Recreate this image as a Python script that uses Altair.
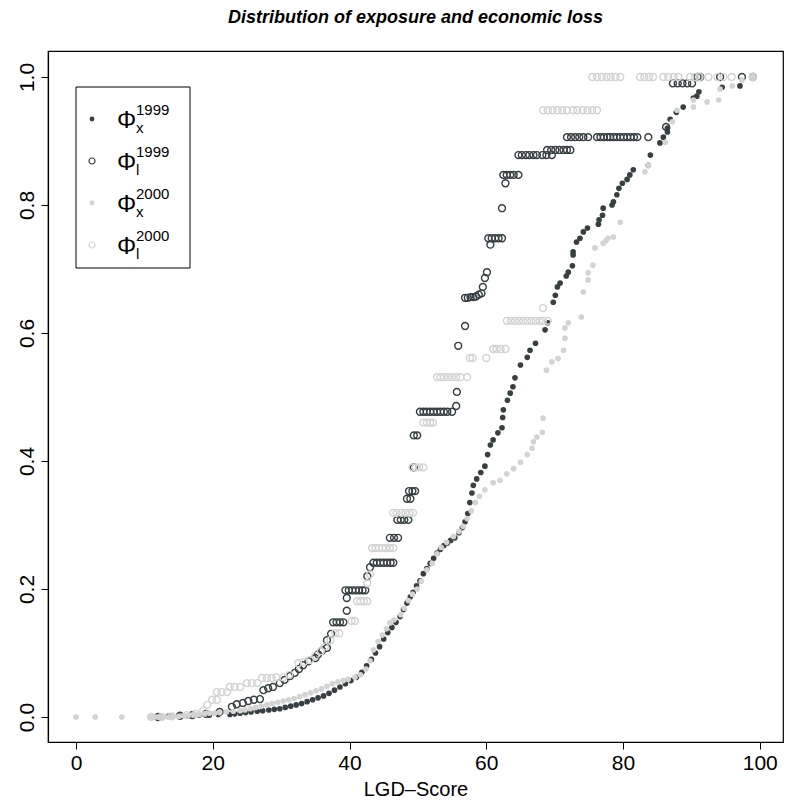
import altair as alt
import pandas as pd

# ---------------- data ----------------
# Phi_x 1999 (dark, filled)
x_fx99 = [12.0,13.5,15.0,16.5,18.0,19.5,20.8,22.5,23.2,24.0,24.8,25.6,26.5,27.3,28.2,29.0,29.8,30.6,31.4,32.2,
          33.0,33.8,34.6,35.4,36.2,37.0,37.8,38.6,39.4,40.2,41.0,41.8,42.5,43.2,43.8,44.4,45.0,45.6,46.2,46.8,
          47.4,47.9,48.4,48.9,49.3,49.8,50.3,50.8,51.3,51.8,52.3,52.8,53.3,53.8,54.3,54.8,55.4,56.0,56.5,56.9,
          57.3,57.6,57.9,58.1,58.6,59.2,59.8,60.2,60.6,61.0,61.7,62.3,62.4,62.5,63.1,63.5,63.9,64.2,65.0,66.0,
          66.4,67.2,68.6,69.0,69.8,70.1,70.4,70.8,71.7,72.0,72.6,72.7,72.7,73.2,73.7,74.2,74.8,76.4,76.5,77.0,
          77.1,78.4,78.6,79.1,79.4,79.9,80.6,81.0,81.5,83.7,84.0,85.4,85.9,86.5,86.5,86.9,87.8,88.8,90.3,90.8,
          91.1,94.5,97.1]
y_fx99 = [0.000,0.001,0.002,0.002,0.003,0.003,0.004,0.004,0.005,0.006,0.007,0.008,0.009,0.010,0.011,0.012,0.013,0.015,0.017,0.019,
          0.021,0.024,0.027,0.030,0.033,0.037,0.042,0.047,0.052,0.057,0.062,0.070,0.080,0.090,0.100,0.110,0.122,0.132,0.140,0.148,
          0.157,0.168,0.178,0.188,0.195,0.205,0.213,0.224,0.232,0.240,0.248,0.256,0.262,0.268,0.272,0.276,0.280,0.288,0.296,0.305,
          0.318,0.335,0.350,0.362,0.372,0.382,0.392,0.410,0.425,0.433,0.444,0.452,0.468,0.480,0.495,0.506,0.516,0.530,0.550,0.562,
          0.573,0.584,0.605,0.616,0.648,0.659,0.672,0.678,0.689,0.695,0.705,0.722,0.727,0.742,0.748,0.758,0.764,0.770,0.777,0.784,
          0.795,0.800,0.805,0.816,0.826,0.834,0.840,0.847,0.855,0.862,0.878,0.897,0.906,0.914,0.920,0.934,0.945,0.953,0.967,0.970,
          0.977,0.984,0.986]

# Phi_l 1999 (dark, open)
x_fl99 = [12.0,15.2,17.0,19.0,21.0,22.8,23.5,24.4,25.2,26.0,26.9,27.4,28.1,28.8,29.8,30.5,31.3,32.0,32.6,33.2,
          34.0,35.0,35.4,36.0,36.7,36.7,37.3,37.6,38.1,38.6,39.1,39.6,39.6,39.4,39.9,40.4,40.9,41.4,41.9,42.3,
          42.6,43.0,43.5,44.0,44.5,45.0,45.5,46.0,46.4,45.9,46.5,47.1,47.0,47.5,48.0,48.6,48.4,48.9,48.7,49.2,
          49.6,49.4,49.4,49.9,50.3,50.8,51.3,51.8,52.3,52.8,53.3,53.8,54.3,55.0,55.6,55.7,55.9,56.9,56.9,57.3,
          57.7,58.1,58.5,58.9,59.3,59.5,59.8,60.1,60.6,60.3,60.8,61.3,61.8,62.3,62.3,62.8,62.5,63.0,63.5,64.0,
          64.7,64.7,65.2,65.8,66.3,66.9,67.4,68.2,68.8,69.6,68.9,69.5,70.1,70.7,71.3,71.8,72.3,71.8,72.4,73.0,
          73.6,74.2,74.9,76.2,76.7,77.2,77.7,78.1,78.6,79.1,79.6,80.1,80.6,81.1,81.6,82.1,83.7,86.3,87.3,88.0,
          88.7,89.4,90.1,90.9,91.3,94.2,97.4,99.0]
y_fl99 = [0.000,0.002,0.003,0.005,0.008,0.016,0.020,0.022,0.025,0.027,0.028,0.042,0.045,0.047,0.053,0.058,0.064,0.069,0.075,0.081,
          0.087,0.092,0.098,0.104,0.108,0.120,0.130,0.148,0.148,0.148,0.148,0.166,0.186,0.198,0.198,0.198,0.198,0.198,0.198,0.198,
          0.220,0.234,0.241,0.241,0.241,0.241,0.241,0.241,0.241,0.280,0.280,0.280,0.308,0.308,0.308,0.308,0.341,0.341,0.353,0.353,
          0.353,0.390,0.440,0.440,0.477,0.477,0.477,0.477,0.477,0.477,0.477,0.477,0.477,0.477,0.486,0.508,0.580,0.611,0.655,0.655,
          0.656,0.656,0.657,0.660,0.662,0.672,0.686,0.695,0.738,0.748,0.748,0.748,0.748,0.748,0.795,0.834,0.847,0.847,0.847,0.847,
          0.847,0.878,0.878,0.878,0.878,0.878,0.878,0.878,0.878,0.878,0.886,0.886,0.886,0.886,0.886,0.886,0.886,0.906,0.906,0.906,
          0.906,0.906,0.906,0.906,0.906,0.906,0.906,0.906,0.906,0.906,0.906,0.906,0.906,0.906,0.906,0.906,0.906,0.922,0.990,0.990,
          0.990,0.990,0.990,1.000,1.000,1.000,1.000,1.000]

# Phi_x 2000 (light, filled)
x_fx00 = [0.0,2.8,6.7,10.8,11.3,11.8,12.3,12.8,13.5,14.2,15.0,15.8,16.5,17.3,18.0,18.8,19.5,20.3,21.0,22.0,
          23.0,24.0,24.7,25.5,26.3,27.1,27.9,28.7,29.5,30.3,31.1,31.9,32.7,33.5,34.3,35.1,35.9,36.7,37.5,38.3,
          39.1,39.8,40.8,41.6,42.4,43.0,43.5,44.2,44.8,45.4,45.9,46.5,47.5,48.0,48.6,49.2,49.9,50.5,51.3,52.1,
          52.8,53.4,54.2,55.2,56.0,56.6,57.2,57.8,58.4,59.0,59.8,61.0,62.0,63.0,64.0,65.0,66.0,66.7,66.9,67.4,
          68.2,68.3,68.8,69.6,70.5,71.3,71.5,71.5,72.0,73.9,74.2,74.9,74.9,75.6,75.9,77.1,77.5,77.8,78.6,79.6,
          83.2,83.7,86.2,87.2,87.9,90.3,90.3,92.3,94.0,94.2,96.0,97.4,99.0]
y_fx00 = [0.000,0.000,0.000,0.000,0.000,0.000,0.000,0.000,0.000,0.001,0.001,0.002,0.003,0.004,0.004,0.005,0.006,0.006,0.007,0.008,
          0.009,0.010,0.011,0.013,0.015,0.017,0.019,0.021,0.023,0.025,0.027,0.029,0.032,0.035,0.038,0.041,0.044,0.048,0.052,0.055,
          0.057,0.059,0.062,0.066,0.075,0.088,0.105,0.118,0.128,0.138,0.147,0.152,0.160,0.170,0.182,0.192,0.200,0.212,0.230,0.240,
          0.255,0.265,0.273,0.282,0.290,0.298,0.310,0.322,0.335,0.345,0.355,0.366,0.370,0.380,0.388,0.398,0.410,0.420,0.430,0.4375,
          0.445,0.467,0.542,0.555,0.560,0.573,0.592,0.608,0.616,0.625,0.664,0.683,0.694,0.706,0.733,0.740,0.744,0.748,0.750,0.773,
          0.852,0.862,0.898,0.930,0.948,0.953,0.964,0.961,0.964,0.981,0.986,0.995,1.000]

# Phi_l 2000 (light, open)
x_fl00 = [11.0,12.5,14.0,16.2,17.5,18.6,19.2,19.9,20.6,20.6,21.3,22.1,22.5,23.2,24.0,25.0,25.7,26.5,27.2,27.9,
          28.6,29.3,30.3,31.2,32.5,33.3,34.2,35.0,35.8,36.4,37.2,37.9,38.5,40.3,40.8,41.1,41.6,42.1,42.6,42.6,
          43.0,43.3,43.8,44.3,44.8,45.3,45.9,46.4,46.4,46.9,47.6,48.2,48.8,49.3,49.2,49.7,50.2,50.8,50.8,51.3,
          51.8,52.2,52.8,53.3,53.8,54.4,55.0,55.6,56.2,57.2,57.6,58.0,60.0,61.0,61.5,62.1,62.8,63.0,63.6,64.2,
          64.8,65.4,66.0,66.6,67.2,67.8,68.3,69.0,68.3,68.3,69.0,69.7,70.4,71.1,71.8,72.7,73.3,74.1,74.8,75.5,
          76.2,75.5,76.2,76.9,77.6,78.2,78.9,79.6,82.5,83.1,83.8,84.4,85.9,86.6,87.4,88.1,89.8,90.5,91.2,92.5,
          93.8,94.7,95.9,99.0]
y_fl00 = [0.000,0.000,0.001,0.003,0.005,0.010,0.019,0.027,0.027,0.039,0.039,0.039,0.047,0.047,0.047,0.053,0.053,0.053,0.061,0.061,
          0.061,0.062,0.062,0.066,0.084,0.086,0.089,0.096,0.103,0.110,0.120,0.131,0.131,0.150,0.150,0.181,0.181,0.181,0.181,0.209,
          0.223,0.264,0.264,0.264,0.264,0.264,0.264,0.264,0.319,0.319,0.319,0.319,0.319,0.319,0.390,0.390,0.390,0.390,0.460,0.460,
          0.460,0.460,0.531,0.531,0.531,0.531,0.531,0.531,0.531,0.531,0.561,0.561,0.561,0.575,0.575,0.575,0.575,0.619,0.619,0.619,
          0.619,0.619,0.619,0.619,0.619,0.619,0.619,0.619,0.639,0.948,0.948,0.948,0.948,0.948,0.948,0.948,0.948,0.948,0.948,0.948,
          0.948,1.000,1.000,1.000,1.000,1.000,1.000,1.000,1.000,1.000,1.000,1.000,1.000,1.000,1.000,1.000,1.000,1.000,1.000,1.000,
          1.000,1.000,1.000,1.000]

x_ticks = [0, 20, 40, 60, 80, 100]
y_ticks = [0.0, 0.2, 0.4, 0.6, 0.8, 1.0]
legend_sup = ["1999", "1999", "2000", "2000"]
legend_sub = ["x", "l", "x", "l"]

DARK = "#363f42"
LIGHT = "#d3d3d3"
FONT = "Liberation Sans"

def frame(xs, ys):
    return pd.DataFrame({"score": xs, "phi": ys})

xenc = alt.X("score:Q",
             scale=alt.Scale(domain=[-4.1, 103.4], nice=False, zero=False),
             axis=alt.Axis(values=x_ticks, title="LGD\u2013Score", format="d"))
yenc = alt.Y("phi:Q",
             scale=alt.Scale(domain=[-0.039, 1.0406], nice=False, zero=False),
             axis=alt.Axis(values=y_ticks, title=None, format=".1f",
                           labelAngle=270, labelAlign="center", labelBaseline="bottom"))

fx99 = alt.Chart(frame(x_fx99, y_fx99)).mark_circle(size=32, color=DARK, opacity=1).encode(x=xenc, y=yenc)
fl99 = alt.Chart(frame(x_fl99, y_fl99)).mark_point(shape="circle", filled=False, size=48, strokeWidth=1.4,
                                                   color=DARK, opacity=1).encode(x=xenc, y=yenc)
fx00 = alt.Chart(frame(x_fx00, y_fx00)).mark_circle(size=32, color=LIGHT, opacity=1).encode(x=xenc, y=yenc)
fl00 = alt.Chart(frame(x_fl00, y_fl00)).mark_point(shape="circle", filled=False, size=48, strokeWidth=1.4,
                                                   color=LIGHT, opacity=1).encode(x=xenc, y=yenc)

# ---------------- manual legend (pixel positions inside the plot area) ----------------
one = alt.Data(values=[{}])
leg_box = alt.Chart(one).mark_rect(fillOpacity=0, stroke="black", strokeWidth=1).encode(
    x=alt.value(28), x2=alt.value(142), y=alt.value(36), y2=alt.value(217))

rows = [68, 110, 152, 194]
leg_items = []
sym_styles = [("filled", DARK), ("open", DARK), ("filled", LIGHT), ("open", LIGHT)]
for i, (kind, col) in enumerate(sym_styles):
    if kind == "filled":
        m = alt.Chart(one).mark_circle(size=24, color=col, opacity=1)
    else:
        m = alt.Chart(one).mark_point(shape="circle", filled=False, size=36, strokeWidth=1.2, color=col, opacity=1)
    leg_items.append(m.encode(x=alt.value(44), y=alt.value(rows[i])))
    base = rows[i] + 9
    leg_items.append(alt.Chart(one).mark_text(text="\u03a6", font=FONT, fontSize=24, align="left",
                                              baseline="alphabetic", color="black").encode(
        x=alt.value(69), y=alt.value(base)))
    leg_items.append(alt.Chart(one).mark_text(text=legend_sub[i], font=FONT, fontSize=15, align="left",
                                              baseline="alphabetic", color="black").encode(
        x=alt.value(88), y=alt.value(base + 5)))
    leg_items.append(alt.Chart(one).mark_text(text=legend_sup[i], font=FONT, fontSize=15, align="left",
                                              baseline="alphabetic", color="black").encode(
        x=alt.value(88), y=alt.value(base - 13)))

chart = alt.layer(fx99, fl99, fx00, fl00, leg_box, *leg_items).properties(
    width=735, height=691,
    title=alt.TitleParams("Distribution of exposure and economic loss", font=FONT, fontSize=18,
                          fontWeight="bold", fontStyle="italic", anchor="middle", offset=24, color="black"),
    padding={"left": 48, "top": 51, "right": 3, "bottom": 67},
    autosize=alt.AutoSizeParams(type="none"),
).configure_view(stroke="black", strokeWidth=1.2).configure_axis(
    grid=False, domainColor="black", domainWidth=1.2, tickColor="black", tickSize=7, tickWidth=1,
    labelFont=FONT, labelFontSize=21, labelColor="black", titleFont=FONT, titleFontSize=20,
    titleFontWeight="normal", titleColor="black", labelPadding=4
).configure_axisX(titlePadding=6, labelPadding=3).configure_axisY(labelPadding=4)

chart.save("out.html", embed_options={"renderer": "svg", "actions": False})
